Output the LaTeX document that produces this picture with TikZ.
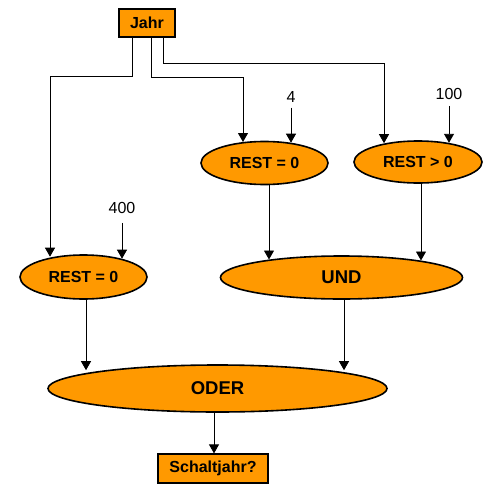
\documentclass[tikz,border=0pt]{standalone}
\usepackage{fontspec}
\setmainfont{Liberation Sans}
\usetikzlibrary{arrows.meta, shapes.geometric}

\definecolor{jahrorange}{RGB}{255,153,0}

\begin{document}
\begin{tikzpicture}[x=1pt, y=-1pt,
  box/.style={rectangle, draw=black, fill=jahrorange, line width=1.2pt,
              minimum width=#1, minimum height=28pt, inner sep=0pt,
              font=\fontsize{16}{19}\selectfont\bfseries},
  test/.style={ellipse, draw=black, fill=jahrorange, line width=1.6pt,
               minimum width=#1, minimum height=43pt, inner sep=0pt,
               font=\fontsize{16}{19}\selectfont\bfseries},
  logic/.style={ellipse, draw=black, fill=jahrorange, line width=1.6pt,
                minimum width=#1, minimum height=43pt, inner sep=0pt,
                font=\fontsize{18.5}{22}\selectfont\bfseries},
  num/.style={inner sep=0pt, font=\fontsize{16}{19}\selectfont},
  arr/.style={-{Triangle[width=10pt, length=9pt]}, line width=0.9pt}
]
\useasboundingbox (0,0) rectangle (500,495);

% ---- Eingabe ----
\node[box=56pt]  (jahr)  at (147,23) {Jahr};

% ---- Tests ----
\node[test=127pt]                     (rest4)   at (264.5,163) {REST = 0};
\node[test=128pt, minimum height=42pt](rest100) at (418,162)   {REST > 0};
\node[test=127pt, minimum height=44pt](rest400) at (83.5,277)  {REST = 0};
\node[num] (n4)   at (291,97)  {4};
\node[num] (n100) at (449,94)  {100};
\node[num] (n400) at (122,208) {400};

% ---- Verknuepfung ----
\node[logic=242pt]                     (und)    at (341.5,277.5) {UND};
\node[logic=339pt, minimum height=47pt] (oder)  at (217.5,388.5) {ODER};
\node[box=110pt, minimum height=29pt]   (schalt) at (213,468.5)  {Schaltjahr?};

% ---- Jahr zu den Tests ----
\draw[arr] ([xshift=-15pt]jahr.south) -- ++(0,39) -| ([xshift=-33.5pt,yshift=-2.5pt]rest400.north);
\draw[arr] ([xshift=4pt]jahr.south)   -- ++(0,40) -| ([xshift=-21.5pt,yshift=-1.3pt]rest4.north);
\draw[arr] ([xshift=16pt]jahr.south)  -- ++(0,26) -| ([xshift=-34pt,yshift=-3pt]rest100.north);

% ---- Teiler ----
\draw[arr] ([yshift=-5pt]n4.south)   -- ([xshift=26.5pt,yshift=-2pt]rest4.north);
\draw[arr] ([yshift=-6pt]n100.south) -- ([xshift=31pt,yshift=-2.6pt]rest100.north);
\draw[arr] ([yshift=-9pt]n400.south) -- ([xshift=38.5pt,yshift=-4.5pt]rest400.north);

% ---- Tests zu UND / ODER ----
\draw[arr] ([xshift=4.5pt]rest4.south)   -- ([xshift=-72.5pt,yshift=-4.3pt]und.north);
\draw[arr] ([xshift=3pt]rest100.south)   -- ([xshift=79.5pt,yshift=-5.3pt]und.north);
\draw[arr] ([xshift=2.5pt]rest400.south) -- ([xshift=-131.5pt,yshift=-6pt]oder.north);
\draw[arr] ([xshift=2.5pt]und.south)     -- ([xshift=126.5pt,yshift=-6pt]oder.north);
\draw[arr] ([xshift=-3.5pt]oder.south)   -- ([xshift=1pt]schalt.north);

\end{tikzpicture}
\end{document}
